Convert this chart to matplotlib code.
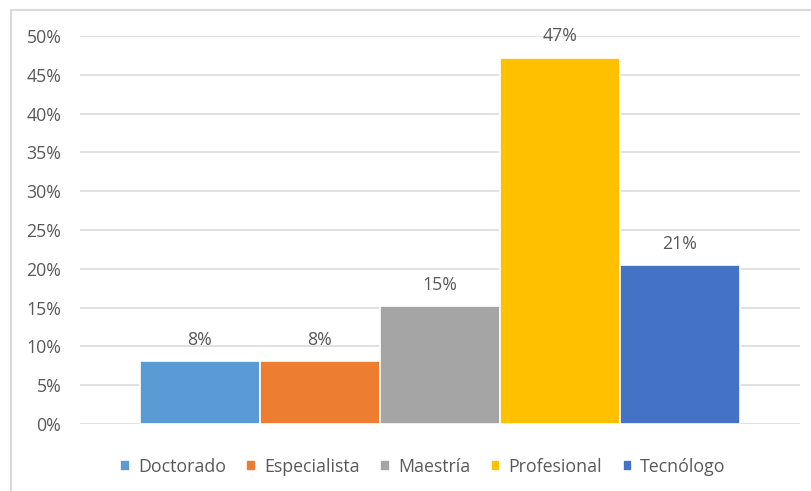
import matplotlib.pyplot as plt
from matplotlib.patches import Rectangle
from matplotlib.ticker import FuncFormatter

# Nivel de formacion (porcentaje)
categorias = ["Doctorado", "Especialista", "Maestría", "Profesional", "Tecnólogo"]
valores = [8.1, 8.1, 15.2, 47.2, 20.5]
etiquetas = ["8%", "8%", "15%", "47%", "21%"]
colores = ["#5B9BD5", "#ED7D31", "#A5A5A5", "#FFC000", "#4472C4"]
ticks_y = [0, 5, 10, 15, 20, 25, 30, 35, 40, 45, 50]

plt.rcParams['font.family'] = ['Open Sans', 'DejaVu Sans']
texto = "#595959"
tam = 12.8

fig = plt.figure(figsize=(8.11, 4.91), dpi=100)
ax = fig.add_axes([80 / 811, 67 / 491, 720 / 811, 388 / 491])

# Borde del area del grafico
fig.patches.append(Rectangle((11 / 811, -0.1), 1.0, 1.1 - 10 / 491,
                             transform=fig.transFigure, fill=False,
                             edgecolor="#D9D9D9", linewidth=1.5))

posiciones = [(i + 1) / 6 for i in range(len(categorias))]
barras = []
for x, v, c, nombre in zip(posiciones, valores, colores, categorias):
    b = ax.bar(x, v, width=0.1667, color=c, edgecolor="white",
               linewidth=1.2, label=nombre, zorder=3)
    barras.append(b)

for x, v, t in zip(posiciones, valores, etiquetas):
    ax.text(x, v + 1.6, t, ha="center", va="bottom", fontsize=tam,
            color=texto)

ax.set_xlim(0, 1)
ax.set_ylim(0, 50)
ax.set_yticks(ticks_y)
ax.yaxis.set_major_formatter(FuncFormatter(lambda v, p: "{:d}%".format(int(v))))
ax.grid(axis="y", color="#D9D9D9", linewidth=1.1, zorder=0)
ax.set_xticks([])
for s in ax.spines.values():
    s.set_visible(False)
ax.tick_params(axis="y", length=0, pad=13.5, labelsize=tam, labelcolor=texto)

fig.legend(handles=[b[0] for b in barras], labels=categorias,
           loc="center", bbox_to_anchor=(423 / 811, 1 - 467 / 491),
           ncol=5, frameon=False, fontsize=tam, labelcolor=texto,
           handlelength=0.55, handleheight=0.55, handletextpad=0.45,
           columnspacing=1.15)

fig.savefig("out.png", dpi=100)
